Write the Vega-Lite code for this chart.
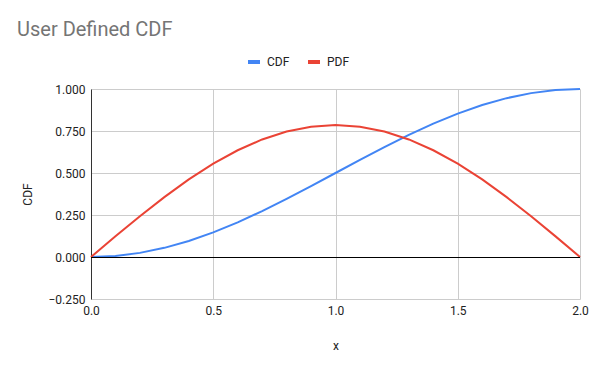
{
  "$schema": "https://vega.github.io/schema/vega-lite/v6.json",
  "width": 489,
  "height": 210,
  "autosize": {"type": "none"},
  "padding": {"left": 91, "top": 89, "right": 20, "bottom": 72},
  "background": "white",
  "title": {
    "text": "User Defined CDF",
    "anchor": "start",
    "frame": "group",
    "dx": -74,
    "offset": 14,
    "fontSize": 20,
    "fontWeight": "normal",
    "font": "Roboto",
    "color": "#757575"
  },
  "config": {
    "view": {"stroke": null},
    "font": "Roboto",
    "axis": {
      "labelFont": "Roboto",
      "labelFontSize": 12,
      "labelColor": "#222222",
      "titleFont": "Roboto",
      "titleFontSize": 12,
      "titleFontWeight": "normal",
      "titleColor": "#222222",
      "gridColor": "#cccccc",
      "ticks": false
    }
  },
  "data": {
    "values": [
      {"x": 0.0, "CDF": 0.0, "PDF": 0.0},
      {"x": 0.1, "CDF": 0.0062, "PDF": 0.1229},
      {"x": 0.2, "CDF": 0.0245, "PDF": 0.2427},
      {"x": 0.3, "CDF": 0.0545, "PDF": 0.3566},
      {"x": 0.4, "CDF": 0.0955, "PDF": 0.4617},
      {"x": 0.5, "CDF": 0.1464, "PDF": 0.5554},
      {"x": 0.6, "CDF": 0.2061, "PDF": 0.6354},
      {"x": 0.7, "CDF": 0.273, "PDF": 0.6998},
      {"x": 0.8, "CDF": 0.3455, "PDF": 0.747},
      {"x": 0.9, "CDF": 0.4218, "PDF": 0.7757},
      {"x": 1.0, "CDF": 0.5, "PDF": 0.7854},
      {"x": 1.1, "CDF": 0.5782, "PDF": 0.7757},
      {"x": 1.2, "CDF": 0.6545, "PDF": 0.747},
      {"x": 1.3, "CDF": 0.727, "PDF": 0.6998},
      {"x": 1.4, "CDF": 0.7939, "PDF": 0.6354},
      {"x": 1.5, "CDF": 0.8536, "PDF": 0.5554},
      {"x": 1.6, "CDF": 0.9045, "PDF": 0.4617},
      {"x": 1.7, "CDF": 0.9455, "PDF": 0.3566},
      {"x": 1.8, "CDF": 0.9755, "PDF": 0.2427},
      {"x": 1.9, "CDF": 0.9938, "PDF": 0.1229},
      {"x": 2.0, "CDF": 1.0, "PDF": 0.0}
    ]
  },
  "layer": [
    {
      "transform": [{"fold": ["CDF", "PDF"], "as": ["series", "value"]}],
      "mark": {"type": "line", "strokeWidth": 2},
      "encoding": {
        "x": {
          "field": "x",
          "type": "quantitative",
          "scale": {"domain": [0, 2], "nice": false},
          "axis": {
            "title": "x",
            "values": [0, 0.5, 1, 1.5, 2],
            "format": ".1f",
            "domain": false,
            "labelFlush": false,
            "labelPadding": 6,
            "titlePadding": 24
          }
        },
        "y": {
          "field": "value",
          "type": "quantitative",
          "scale": {"domain": [-0.25, 1], "nice": false, "zero": false},
          "axis": {
            "title": "CDF",
            "values": [-0.25, 0, 0.25, 0.5, 0.75, 1],
            "format": ".3f",
            "domainColor": "#333333",
            "labelPadding": 6,
            "titlePadding": 13
          }
        },
        "color": {
          "field": "series",
          "type": "nominal",
          "scale": {"domain": ["CDF", "PDF"], "range": ["#4285F4", "#EA4335"]},
          "legend": {
            "title": null,
            "orient": "none",
            "direction": "horizontal",
            "legendX": 155,
            "legendY": -35,
            "symbolType": "stroke",
            "symbolSize": 144,
            "symbolStrokeWidth": 4,
            "labelFontSize": 12,
            "labelColor": "#222222",
            "labelFont": "Roboto",
            "labelOffset": 5,
            "columnPadding": 10
          }
        }
      }
    },
    {
      "mark": {"type": "rule", "color": "#000000", "strokeWidth": 1, "yOffset": 0.5},
      "encoding": {"y": {"datum": 0, "type": "quantitative"}}
    }
  ]
}
